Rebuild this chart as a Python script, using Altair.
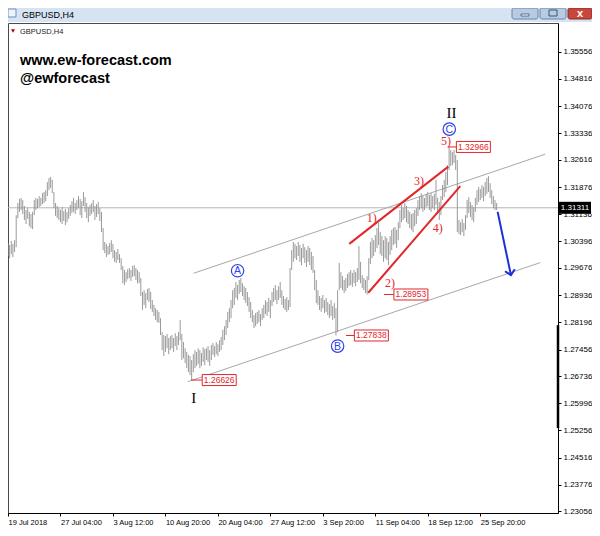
import altair as alt
import pandas as pd

# ---------------- data ----------------
HIGH = [
    1.3035, 1.3030, 1.3041, 1.3033, 1.3043, 1.3111, 1.3144, 1.3155, 1.3158, 1.3152,
    1.3136, 1.3125, 1.3130, 1.3120, 1.3114, 1.3120, 1.3152, 1.3158, 1.3155, 1.3163,
    1.3158, 1.3171, 1.3174, 1.3179, 1.3201, 1.3212, 1.3215, 1.3207, 1.3174, 1.3144,
    1.3136, 1.3130, 1.3125, 1.3133, 1.3122, 1.3128, 1.3120, 1.3130, 1.3139, 1.3149,
    1.3158, 1.3144, 1.3152, 1.3163, 1.3155, 1.3149, 1.3174, 1.3160, 1.3144, 1.3133,
    1.3139, 1.3144, 1.3152, 1.3136, 1.3141, 1.3147, 1.3130, 1.3120, 1.3076, 1.3038,
    1.3033, 1.3027, 1.3035, 1.3043, 1.3033, 1.3016, 1.3011, 1.3019, 1.3005, 1.2994,
    1.2973, 1.2962, 1.2956, 1.2964, 1.2967, 1.2962, 1.2973, 1.2975, 1.2967, 1.2962,
    1.2956, 1.2940, 1.2902, 1.2907, 1.2899, 1.2910, 1.2913, 1.2902, 1.2880, 1.2867,
    1.2858, 1.2853, 1.2848, 1.2831, 1.2793, 1.2785, 1.2782, 1.2788, 1.2777, 1.2782,
    1.2785, 1.2777, 1.2790, 1.2782, 1.2793, 1.2826, 1.2788, 1.2766, 1.2749, 1.2739,
    1.2731, 1.2728, 1.2717, 1.2733, 1.2744, 1.2739, 1.2749, 1.2744, 1.2736, 1.2752,
    1.2747, 1.2749, 1.2755, 1.2744, 1.2758, 1.2763, 1.2755, 1.2766, 1.2760, 1.2771,
    1.2780, 1.2799, 1.2809, 1.2826, 1.2848, 1.2858, 1.2880, 1.2907, 1.2913, 1.2929,
    1.2921, 1.2935, 1.2940, 1.2926, 1.2918, 1.2913, 1.2902, 1.2888, 1.2875, 1.2853,
    1.2839, 1.2845, 1.2848, 1.2853, 1.2842, 1.2858, 1.2867, 1.2880, 1.2875, 1.2886,
    1.2880, 1.2902, 1.2913, 1.2921, 1.2907, 1.2918, 1.2929, 1.2907, 1.2891, 1.2883,
    1.2888, 1.2880, 1.2967, 1.3016, 1.3038, 1.3033, 1.3027, 1.3038, 1.3030, 1.3022,
    1.3033, 1.3024, 1.3016, 1.3027, 1.3022, 1.3011, 1.3000, 1.2962, 1.2935, 1.2907,
    1.2891, 1.2886, 1.2894, 1.2880, 1.2886, 1.2875, 1.2869, 1.2880, 1.2864, 1.2872,
    1.2858, 1.2907, 1.2981, 1.2956, 1.2945, 1.2935, 1.2940, 1.2951, 1.2956, 1.2962,
    1.2954, 1.2962, 1.2956, 1.2967, 1.3027, 1.2984, 1.2948, 1.2940, 1.2935, 1.2945,
    1.2994, 1.3038, 1.3049, 1.3043, 1.3057, 1.3076, 1.3090, 1.3065, 1.3054, 1.3043,
    1.3054, 1.3049, 1.3038, 1.3054, 1.3071, 1.3076, 1.3079, 1.3071, 1.3092, 1.3125,
    1.3139, 1.3130, 1.3144, 1.3136, 1.3125, 1.3120, 1.3114, 1.3117, 1.3125, 1.3130,
    1.3152, 1.3163, 1.3171, 1.3163, 1.3158, 1.3169, 1.3174, 1.3166, 1.3171, 1.3163,
    1.3169, 1.3207, 1.3158, 1.3147, 1.3163, 1.3193, 1.3207, 1.3228, 1.3247, 1.3297,
    1.3288, 1.3283, 1.3288, 1.3275, 1.3261, 1.3098, 1.3092, 1.3101, 1.3090, 1.3111,
    1.3152, 1.3160, 1.3147, 1.3139, 1.3133, 1.3158, 1.3179, 1.3188, 1.3182, 1.3193,
    1.3188, 1.3201, 1.3212, 1.3217, 1.3198, 1.3179, 1.3163, 1.3152, 1.3144,
]
LOW = [
    1.3000, 1.2994, 1.3005, 1.2997, 1.3011, 1.3024, 1.3103, 1.3120, 1.3125, 1.3114,
    1.3098, 1.3087, 1.3101, 1.3081, 1.3076, 1.3073, 1.3111, 1.3125, 1.3130, 1.3133,
    1.3136, 1.3141, 1.3144, 1.3149, 1.3163, 1.3179, 1.3185, 1.3171, 1.3130, 1.3109,
    1.3103, 1.3098, 1.3092, 1.3087, 1.3095, 1.3084, 1.3092, 1.3101, 1.3109, 1.3117,
    1.3120, 1.3114, 1.3125, 1.3130, 1.3111, 1.3103, 1.3136, 1.3120, 1.3103, 1.3092,
    1.3109, 1.3114, 1.3120, 1.3098, 1.3106, 1.3114, 1.3095, 1.3065, 1.3016, 1.3008,
    1.2997, 1.3003, 1.3005, 1.3011, 1.2994, 1.2984, 1.2981, 1.2989, 1.2981, 1.2962,
    1.2926, 1.2921, 1.2929, 1.2937, 1.2940, 1.2932, 1.2943, 1.2945, 1.2935, 1.2926,
    1.2926, 1.2891, 1.2853, 1.2867, 1.2858, 1.2880, 1.2875, 1.2856, 1.2848, 1.2837,
    1.2826, 1.2820, 1.2818, 1.2785, 1.2744, 1.2728, 1.2739, 1.2749, 1.2733, 1.2744,
    1.2749, 1.2739, 1.2755, 1.2744, 1.2758, 1.2771, 1.2717, 1.2722, 1.2709, 1.2695,
    1.2684, 1.2676, 1.2663, 1.2684, 1.2695, 1.2701, 1.2706, 1.2695, 1.2701, 1.2712,
    1.2703, 1.2717, 1.2712, 1.2701, 1.2717, 1.2731, 1.2725, 1.2733, 1.2728, 1.2739,
    1.2744, 1.2758, 1.2771, 1.2785, 1.2804, 1.2820, 1.2831, 1.2858, 1.2867, 1.2886,
    1.2880, 1.2897, 1.2902, 1.2891, 1.2880, 1.2872, 1.2864, 1.2848, 1.2831, 1.2820,
    1.2804, 1.2809, 1.2815, 1.2820, 1.2809, 1.2826, 1.2831, 1.2842, 1.2837, 1.2848,
    1.2831, 1.2864, 1.2875, 1.2880, 1.2869, 1.2880, 1.2886, 1.2867, 1.2858, 1.2853,
    1.2848, 1.2853, 1.2861, 1.2962, 1.2984, 1.2994, 1.2989, 1.3000, 1.2984, 1.2975,
    1.2994, 1.2981, 1.2970, 1.2984, 1.2975, 1.2962, 1.2954, 1.2907, 1.2872, 1.2867,
    1.2853, 1.2848, 1.2858, 1.2845, 1.2848, 1.2839, 1.2831, 1.2837, 1.2826, 1.2831,
    1.2784, 1.2793, 1.2907, 1.2913, 1.2907, 1.2899, 1.2905, 1.2913, 1.2918, 1.2921,
    1.2916, 1.2926, 1.2918, 1.2929, 1.2935, 1.2926, 1.2913, 1.2907, 1.2899, 1.2895,
    1.2935, 1.2978, 1.2994, 1.3000, 1.3011, 1.3022, 1.3030, 1.3005, 1.3000, 1.2984,
    1.2994, 1.2989, 1.2975, 1.3003, 1.3016, 1.3030, 1.3033, 1.3022, 1.3043, 1.3076,
    1.3092, 1.3098, 1.3103, 1.3092, 1.3087, 1.3076, 1.3071, 1.3065, 1.3081, 1.3087,
    1.3109, 1.3125, 1.3130, 1.3120, 1.3125, 1.3133, 1.3136, 1.3125, 1.3120, 1.3130,
    1.3125, 1.3139, 1.3114, 1.3098, 1.3111, 1.3152, 1.3160, 1.3174, 1.3193, 1.3234,
    1.3245, 1.3247, 1.3253, 1.3234, 1.3065, 1.3060, 1.3057, 1.3065, 1.3054, 1.3071,
    1.3103, 1.3117, 1.3106, 1.3098, 1.3092, 1.3120, 1.3139, 1.3147, 1.3152, 1.3158,
    1.3149, 1.3163, 1.3169, 1.3174, 1.3158, 1.3141, 1.3130, 1.3125, 1.3125,
]

X_TICKS = [0, 32, 64, 96, 128, 160, 192, 224, 256, 288]
X_LABELS = ["19 Jul 2018", "27 Jul 04:00", "3 Aug 12:00", "10 Aug 20:00", "20 Aug 04:00",
            "27 Aug 12:00", "3 Sep 20:00", "11 Sep 04:00", "18 Sep 12:00", "25 Sep 20:00"]
Y_TICKS = [1.35556, 1.34816, 1.34076, 1.33336, 1.32616, 1.31876, 1.31136, 1.30396, 1.29676,
           1.28936, 1.28196, 1.27456, 1.26736, 1.25996, 1.25256, 1.24516, 1.23776, 1.23056]
LAST_PRICE = 1.31311

# trend lines: (bar index, price) start and end
CHANNEL_X1 = [113.2, 109.6]
CHANNEL_Y1 = [1.2953, 1.2658]
CHANNEL_X2 = [327.6, 324.6]
CHANNEL_Y2 = [1.3277, 1.2982]
WEDGE_X1 = [208.1, 219.7]
WEDGE_Y1 = [1.3033, 1.2900]
WEDGE_X2 = [268.5, 275.8]
WEDGE_Y2 = [1.3243, 1.3190]
ARROW_X = [298.6, 306.7]
ARROW_Y = [1.3120, 1.2948]

ROMAN_T = ["II", "I"]
ROMAN_X = [270.5, 113.2]
ROMAN_Y = [1.3390, 1.2613]
WAVE_T = ["1)", "2)", "3)", "4)", "5)"]
WAVE_X = [221.8, 232.9, 250.6, 262.0, 267.1]
WAVE_Y = [1.3102, 1.2927, 1.3204, 1.3075, 1.3314]
CIRC_T = ["A", "B", "C"]
CIRC_X = [140.0, 201.0, 269.1]
CIRC_Y = [1.2960, 1.2755, 1.3345]

LEVELS = [1.32966, 1.28953, 1.27838, 1.26626]
LEVEL_FROM = [268.3, 229.3, 206.1, 111.6]
LEVEL_TO = [273.6, 235.3, 211.2, 118.4]
LEVEL_BOX = [283.8, 245.7, 221.6, 128.8]

SCALE_BAR = [1.2812, 1.2532]

# ---------------- styles ----------------
RED = "#e3262c"
BLUE_C = "#2f43e8"
BLUE_A = "#1c2fd8"
GRAY_BAR = "#9a9a9a"

xs = alt.Scale(domain=[0, 335.4], nice=False, zero=False)
ys = alt.Scale(domain=[1.2301, 1.36337], nice=False, zero=False)

label_expr = "[" + ",".join("'%s'" % s for s in X_LABELS) + "][round(datum.value / 32)]"

x_axis = alt.Axis(values=X_TICKS, labelExpr=label_expr, title=None, grid=False, orient="bottom",
                  domain=True, domainColor="#000000", ticks=True, tickColor="#000000", tickSize=3,
                  labelFont="Liberation Sans", labelFontSize=7.5, labelColor="#000000",
                  labelAlign="left", labelPadding=2, labelOverlap=False, labelFlush=False,
                  labelBound=False)
y_axis = alt.Axis(values=Y_TICKS, format=".5f", title=None, grid=False, orient="right",
                  domain=True, domainColor="#000000", ticks=True, tickColor="#000000", tickSize=3,
                  labelFont="Liberation Sans", labelFontSize=8, labelColor="#000000",
                  labelPadding=2, labelOverlap=False, labelFlush=False, labelBound=False)


def X(f):
    return alt.X(f, type="quantitative", scale=xs, axis=x_axis)


def Y(f):
    return alt.Y(f, type="quantitative", scale=ys, axis=y_axis)


one = pd.DataFrame({"k": [0]})
bars = pd.DataFrame({"i": list(range(len(HIGH))), "high": HIGH, "low": LOW})
channels = pd.DataFrame({"x1": CHANNEL_X1, "y1": CHANNEL_Y1, "x2": CHANNEL_X2, "y2": CHANNEL_Y2})
wedges = pd.DataFrame({"x1": WEDGE_X1, "y1": WEDGE_Y1, "x2": WEDGE_X2, "y2": WEDGE_Y2})
arrow = pd.DataFrame({"x1": [ARROW_X[0]], "y1": [ARROW_Y[0]], "x2": [ARROW_X[1]], "y2": [ARROW_Y[1]]})
arrow_tip = pd.DataFrame({"x": [ARROW_X[1]], "y": [ARROW_Y[1]]})
roman = pd.DataFrame({"x": ROMAN_X, "y": ROMAN_Y, "t": ROMAN_T})
waves = pd.DataFrame({"x": WAVE_X, "y": WAVE_Y, "t": WAVE_T})
circ = pd.DataFrame({"x": CIRC_X, "y": CIRC_Y, "t": CIRC_T})
levels = pd.DataFrame({"a": LEVEL_FROM, "b": LEVEL_TO, "c": LEVEL_BOX, "p": LEVELS,
                       "t": ["%.5f" % v for v in LEVELS]})
last = pd.DataFrame({"p": [LAST_PRICE], "t": ["%.5f" % LAST_PRICE]})
sbar = pd.DataFrame({"a": [SCALE_BAR[0]], "b": [SCALE_BAR[1]]})

layers = []

# window chrome (title bar + buttons)
layers.append(alt.Chart(one).mark_rect(color="#d6e3f2").encode(
    x=alt.value(0), x2=alt.value(584), y=alt.value(-15), y2=alt.value(-1)))
layers.append(alt.Chart(one).mark_rect(fill="#eef3fa", stroke="#6f8fbf", strokeWidth=1).encode(
    x=alt.value(0), x2=alt.value(8), y=alt.value(-14), y2=alt.value(-6)))
layers.append(alt.Chart(one).mark_text(text="GBPUSD,H4", align="left", baseline="alphabetic",
                                       font="Liberation Sans", fontSize=9, color="#000000").encode(
    x=alt.value(14), y=alt.value(-5)))
for bx1, bx2, fill, stroke in [(504, 530, "#b7cbe3", "#6b84a8"), (532, 558, "#b7cbe3", "#6b84a8"),
                               (560, 584, "#c9463d", "#8a2a22")]:
    layers.append(alt.Chart(one).mark_rect(fill=fill, stroke=stroke, strokeWidth=1,
                                           cornerRadius=2).encode(
        x=alt.value(bx1), x2=alt.value(bx2), y=alt.value(-15), y2=alt.value(-4)))
layers.append(alt.Chart(one).mark_rect(fill="#ffffff", stroke="#3d5270", strokeWidth=0.8).encode(
    x=alt.value(513), x2=alt.value(521), y=alt.value(-9), y2=alt.value(-7)))
layers.append(alt.Chart(one).mark_rect(fill="#b7cbe3", stroke="#3d5270", strokeWidth=1).encode(
    x=alt.value(541), x2=alt.value(549), y=alt.value(-13), y2=alt.value(-7)))
layers.append(alt.Chart(one).mark_text(text="x", align="center", baseline="alphabetic",
                                       font="Liberation Sans", fontSize=11, fontWeight="bold",
                                       color="#ffffff").encode(x=alt.value(572), y=alt.value(-6)))

# chart header texts
layers.append(alt.Chart(one).mark_point(shape="triangle-down", size=16, filled=True,
                                        color="#b00000", opacity=1).encode(
    x=alt.value(5), y=alt.value(8)))
layers.append(alt.Chart(one).mark_text(text="GBPUSD,H4", align="left", baseline="alphabetic",
                                       font="Liberation Sans", fontSize=7.5,
                                       color="#222222").encode(x=alt.value(12), y=alt.value(11)))
layers.append(alt.Chart(one).mark_text(text="www.ew-forecast.com", align="left",
                                       baseline="alphabetic", font="Liberation Sans",
                                       fontSize=14.5, fontWeight="bold", color="#000000").encode(
    x=alt.value(12), y=alt.value(42)))
layers.append(alt.Chart(one).mark_text(text="@ewforecast", align="left", baseline="alphabetic",
                                       font="Liberation Sans", fontSize=14.5, fontWeight="bold",
                                       color="#000000").encode(x=alt.value(12), y=alt.value(60)))

# current price line
layers.append(alt.Chart(last).mark_rule(color="#b4b4b4", strokeWidth=1).encode(y=Y("p")))

# channel lines
layers.append(alt.Chart(channels).mark_rule(color="#a8a8a8", strokeWidth=1).encode(
    x=X("x1"), x2=alt.X2("x2"), y=Y("y1"), y2=alt.Y2("y2")))

# price bars
layers.append(alt.Chart(bars).mark_rule(color=GRAY_BAR, strokeWidth=1).encode(
    x=X("i"), y=Y("low"), y2=alt.Y2("high")))

# wedge lines
layers.append(alt.Chart(wedges).mark_rule(color=RED, strokeWidth=2).encode(
    x=X("x1"), x2=alt.X2("x2"), y=Y("y1"), y2=alt.Y2("y2")))

# blue arrow
layers.append(alt.Chart(arrow).mark_rule(color=BLUE_A, strokeWidth=2).encode(
    x=X("x1"), x2=alt.X2("x2"), y=Y("y1"), y2=alt.Y2("y2")))
layers.append(alt.Chart(arrow_tip).mark_point(shape="M-1,-1L0,0L1,-1", size=100, filled=False,
                                              color=BLUE_A, strokeWidth=2, angle=348,
                                              opacity=1).encode(x=X("x"), y=Y("y")))

# level labels
layers.append(alt.Chart(levels).mark_rule(color=RED, strokeWidth=1).encode(
    x=X("a"), x2=alt.X2("b"), y=Y("p")))
layers.append(alt.Chart(levels).mark_point(shape="M-1,-0.3235L1,-0.3235L1,0.3235L-1,0.3235Z",
                                           size=1156, filled=True, fill="#ffffff", stroke=RED,
                                           strokeWidth=1, opacity=1).encode(x=X("c"), y=Y("p")))
layers.append(alt.Chart(levels).mark_text(font="Liberation Sans", fontSize=8.5, color=RED,
                                          align="center", baseline="middle").encode(
    x=X("c"), y=Y("p"), text="t:N"))

# wave labels
layers.append(alt.Chart(roman).mark_text(font="Liberation Serif", fontSize=15, color="#000000",
                                         align="center", baseline="middle").encode(
    x=X("x"), y=Y("y"), text="t:N"))
layers.append(alt.Chart(waves).mark_text(font="Liberation Serif", fontSize=12, color=RED,
                                         align="center", baseline="middle").encode(
    x=X("x"), y=Y("y"), text="t:N"))
layers.append(alt.Chart(circ).mark_point(shape="circle", size=154, filled=False, color=BLUE_C,
                                         strokeWidth=1.2, opacity=1).encode(x=X("x"), y=Y("y")))
layers.append(alt.Chart(circ).mark_text(font="Liberation Sans", fontSize=10.5, color=BLUE_C,
                                        align="center", baseline="middle", dy=0.5).encode(
    x=X("x"), y=Y("y"), text="t:N"))

# right scale marker bar and current price tag
layers.append(alt.Chart(sbar).mark_rule(color="#000000", strokeWidth=2.5).encode(
    x=alt.value(550), y=Y("a"), y2=alt.Y2("b")))
layers.append(alt.Chart(last).mark_point(shape="M-1,-0.375L1,-0.375L1,0.375L-1,0.375Z",
                                         size=1024, filled=True, color="#000000",
                                         opacity=1).encode(x=alt.value(567), y=Y("p")))
layers.append(alt.Chart(last).mark_text(font="Liberation Sans", fontSize=8, color="#ffffff",
                                        align="center", baseline="middle").encode(
    x=alt.value(567), y=Y("p"), text="t:N"))

chart = alt.layer(*layers).properties(
    width=550, height=490,
    padding={"left": 0, "top": 15, "right": 34, "bottom": 15},
    autosize=alt.AutoSizeParams(type="none"),
    background="#ffffff",
).configure_view(stroke="#4a4a4a", strokeWidth=1)

chart.save("out.html", embed_options={"renderer": "svg", "actions": False})
